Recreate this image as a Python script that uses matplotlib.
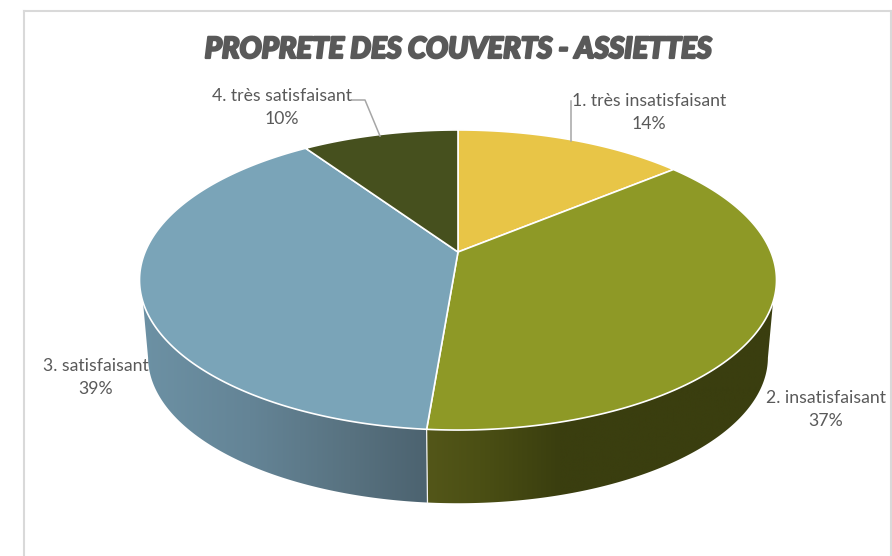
import numpy as np
import matplotlib
matplotlib.use('Agg')
import matplotlib.pyplot as plt
from matplotlib.patches import Polygon
import matplotlib.patheffects as pe

# donnees (en %)
categories = ['1. très insatisfaisant', '2. insatisfaisant', '3. satisfaisant', '4. très satisfaisant']
values = [14.0, 37.3, 39.2, 9.5]
title = 'PROPRETE DES COUVERTS - ASSIETTES'

top_colors = ['#E8C547', '#8E9926', '#7AA4B8', '#46501E']
# degrade de la tranche: (x, couleur)
side_stops = {
    1: [(415, '#55581A'), (480, '#4B4F14'), (560, '#3A3E0F'), (780, '#3A3E0F')],
    2: [(135, '#6D92A5'), (250, '#648496'), (350, '#587280'), (440, '#4A606D')],
}

cx, cy = 458, 252       # sommet de la tarte
a, b, k = 312.9, 144.8, -0.1867     # perspective du disque
side_scale, side_cy = 0.973, 330    # disque du dessous


def project(theta, scale=1.0, y0=cy):
    u, v = np.sin(theta), -np.cos(theta)
    d = 1 + k * v
    return cx + scale * a * u / d, y0 + scale * b * v / d


def rim(t1, t2, scale=1.0, y0=cy):
    t = np.linspace(t1, t2, 200)
    x, y = project(t, scale, y0)
    return np.column_stack([x, y])


def hex2rgb(c):
    return np.array(matplotlib.colors.to_rgb(c))


fig = plt.figure(figsize=(8.92, 5.56), dpi=100)
ax = fig.add_axes([0, 0, 1, 1])

edges = 2 * np.pi * np.concatenate([[0], np.cumsum(values)]) / np.sum(values)

# limites de la partie visible du cylindre (haut et bas ne tangentent pas au meme angle)
t_up = np.radians([109, 251])
t_down = np.radians([101, 259])

# tranche du cylindre
for i, stops in side_stops.items():
    t1, t2 = edges[i], edges[i + 1]
    up = rim(max(t1, t_up[0]), min(t2, t_up[1]))
    down = rim(max(t1, t_down[0]), min(t2, t_down[1]), side_scale, side_cy)
    poly = Polygon(np.vstack([up, down[::-1]]), closed=True, fc='none', ec='none')
    ax.add_patch(poly)
    xs = np.linspace(stops[0][0], stops[-1][0], 300)
    rgb = np.column_stack([
        np.interp(xs, [s[0] for s in stops], [hex2rgb(s[1])[j] for s in stops])
        for j in range(3)
    ])
    im = ax.imshow(rgb[np.newaxis, :, :], extent=[xs[0], xs[-1], 520, 260],
                   aspect='auto', zorder=1)
    im.set_clip_path(poly)

# separation verticale entre les tranches bleue et verte
sx, sy = project(edges[2])
bx, by = project(edges[2], side_scale, side_cy)
ax.plot([sx, bx], [sy, by], color='#F2F2F2', lw=0.9, zorder=2)

# dessus de la tarte
for i in range(len(values)):
    pts = np.vstack([[cx, cy], rim(edges[i], edges[i + 1])])
    ax.add_patch(Polygon(pts, closed=True, fc=top_colors[i], ec='white',
                         lw=1.2, joinstyle='round', zorder=3))

# cadre du graphique (pas de bord en bas)
ax.plot([24, 24], [556, 11], color='#D9D9D9', lw=1.5, zorder=0)
ax.plot([24, 891], [11, 11], color='#D9D9D9', lw=1.5, zorder=0)
ax.plot([891, 891], [11, 556], color='#D9D9D9', lw=1.5, zorder=0)

# lignes de rappel
ax.plot([352, 365, 380], [100, 100, 136], color='#A6A6A6', lw=1.1, zorder=4)
ax.plot([571, 571], [101, 141], color='#A6A6A6', lw=1.1, zorder=4)

label_pos = [(649, 101), (826, 398), (96, 366), (282, 96)]
for name, val, (lx, ly) in zip(categories, values, label_pos):
    ax.text(lx, ly, name, ha='center', va='center', fontsize=12.7,
            family='Lato', color='#595959', zorder=5)
    ax.text(lx, ly + 23, '%d%%' % round(val), ha='center', va='center', fontsize=12.7,
            family='Lato', color='#595959', zorder=5)

ax.text(458, 50, title, ha='center', va='center', fontsize=21, family='Lato',
        weight='black', style='italic', color='#595959', zorder=5,
        path_effects=[pe.withStroke(linewidth=1.6, foreground='#595959')])

ax.set_xlim(0, 892)
ax.set_ylim(556, 0)
ax.axis('off')

fig.savefig('out.png', dpi=100)
